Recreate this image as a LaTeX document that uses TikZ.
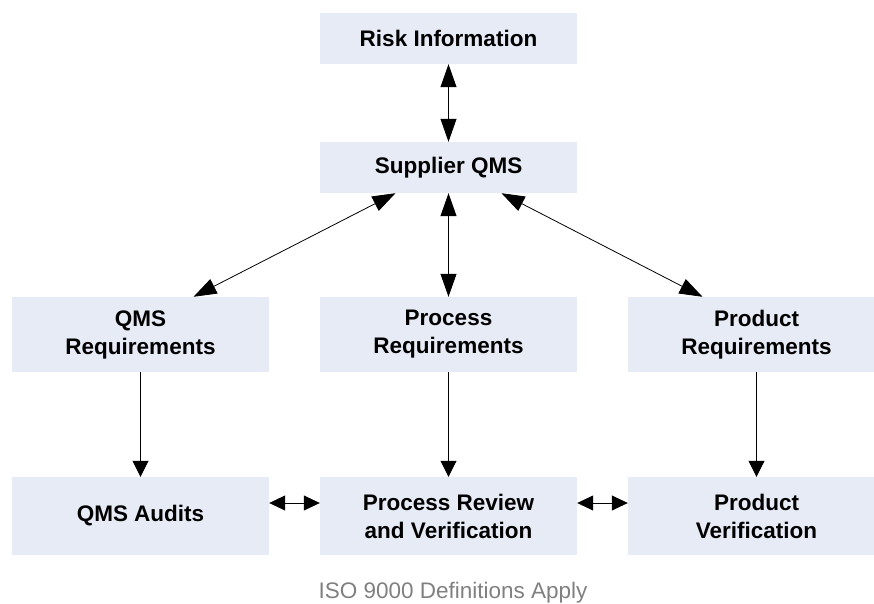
\documentclass[tikz,border=0pt]{standalone}
\usepackage{fontspec}
\setmainfont{Liberation Sans}
\usetikzlibrary{arrows.meta}
\definecolor{boxfill}{RGB}{230,235,246}
\definecolor{capgray}{RGB}{128,128,128}
\tikzset{
  box/.style={rectangle, fill=boxfill, draw=none, minimum width=257pt, inner sep=0pt,
    align=center, font=\fontsize{22.5}{28}\selectfont\bfseries, text=black},
  boxA/.style={box, minimum height=51pt},
  boxB/.style={box, minimum height=75pt},
  boxC/.style={box, minimum height=78pt},
  conn/.style={line width=0.8pt, {Triangle[length=23pt,width=16pt]}-{Triangle[length=23pt,width=16pt]}},
  connone/.style={line width=0.8pt, -{Triangle[length=16pt,width=16pt]}},
  connh/.style={line width=0.8pt, {Triangle[length=16pt,width=15pt]}-{Triangle[length=16pt,width=15pt]}},
}
\begin{document}
\begin{tikzpicture}[x=1pt,y=1pt]
\useasboundingbox (0,0) rectangle (874,603);
\clip (0,0) rectangle (874,603);
\node[boxA] (risk) at (448.5,{603-38.5}) {Risk Information};
\node[boxA] (sup) at (448.5,{603-167.5}) {Supplier QMS};
\node[boxB] (qreq) at (140.5,{603-334.5}) {QMS\\Requirements};
\node[boxB] (preq) at (448.5,{603-334.5}) {Process\\Requirements};
\node[boxB] (pdreq) at (756.5,{603-334.5}) {Product\\Requirements};
\node[boxC] (qaud) at (140.5,{603-516}) {QMS Audits};
\node[boxC] (prv) at (448.5,{603-516}) {Process Review\\and Verification};
\node[boxC] (pver) at (756.5,{603-516}) {Product\\Verification};
\node[font=\fontsize{22.5}{28}\selectfont, text=capgray] (cap) at (453,{603-593}) {ISO 9000 Definitions Apply};

\draw[conn] (risk.south) -- (sup.north);
\draw[conn] ([xshift=-53pt]sup.south) -- ([xshift=53pt]qreq.north);
\draw[conn] (sup.south) -- (preq.north);
\draw[conn] ([xshift=53pt]sup.south) -- ([xshift=-54pt]pdreq.north);
\draw[connone] (qreq.south) -- (qaud.north);
\draw[connone] (preq.south) -- (prv.north);
\draw[connone] (pdreq.south) -- (pver.north);
\draw[connh] ([yshift=13pt]qaud.east) -- ([yshift=13pt]prv.west);
\draw[connh] ([yshift=13pt]prv.east) -- ([yshift=13pt]pver.west);
\end{tikzpicture}
\end{document}
